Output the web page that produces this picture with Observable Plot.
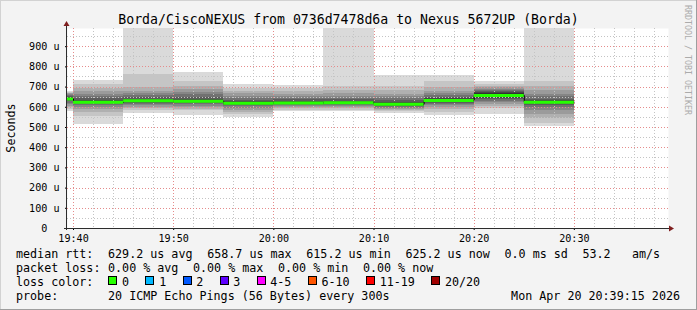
<!DOCTYPE html>
<html><head><meta charset="utf-8">
<script src="https://cdn.jsdelivr.net/npm/d3@7"></script>
<script src="https://cdn.jsdelivr.net/npm/@observablehq/plot@0.6"></script>
<style>
html,body{margin:0;padding:0;background:#f3f3f3;}
#chart{width:697px;height:310px;overflow:hidden;}
svg text{font-family:"DejaVu Sans Mono",monospace;}
</style></head><body><div id="chart"></div>
<script>
// ---------- data ----------
const title = "Borda/CiscoNEXUS from 0736d7478d6a to Nexus 5672UP (Borda)";
const yLabel = "Seconds";
const watermark = "RRDTOOL / TOBI OETIKER";

const stepStarts = ["19:35","19:40","19:45","19:50","19:55","20:00","20:05","20:10","20:15","20:20","20:25"];
const medians    = [641, 625, 632, 630, 620, 621, 622, 615.2, 634, 658.7, 625.2]; // microseconds
const losses     = [0, 0, 0, 0, 0, 0, 0, 0, 0, 0, 0];
// sorted pings used for the smoke (cp1..cp18), microseconds
const pingSets = [
  [577,588,598,606,614,620,627,632,636,644,648,653,658,662,666,669,672,676],
  [516,553,575,588,600,610,617,621,624,630,636,645,655,665,678,693,712,734],
  [569,582,592,600,608,615,620,625,629,635,640,648,657,668,680,698,760,1100],
  [561,582,590,597,605,612,618,622,626,633,640,650,662,675,690,705,729,770],
  [550,565,575,585,594,602,608,613,617,623,628,636,645,655,666,676,695,714],
  [577,585,592,598,604,609,613,617,619,624,630,637,645,655,665,676,692,709],
  [577,585,593,600,606,611,615,618,621,625,630,637,645,655,667,682,704,1100],
  [570,578,585,590,596,601,605,609,612,618,624,632,642,653,665,685,705,755],
  [561,575,590,600,608,614,619,624,628,637,643,650,658,667,676,700,726,755],
  [566,594,605,615,622,630,638,645,650,666,672,678,684,690,697,704,712,726],
  [503,520,545,565,586,600,610,617,621,629,634,640,651,665,685,701,729,1100]
];

const yTickValues = [0,100,200,300,400,500,600,700,800,900];
const xTickLabels = ["19:40","19:50","20:00","20:10","20:20","20:30"];

const rttLabel = "median rtt:";
const rttItems = ["629.2 us avg","658.7 us max","615.2 us min","625.2 us now","0.0 ms sd","53.2","am/s"];
const lossLabel = "packet loss:";
const lossItems = ["0.00 % avg","0.00 % max","0.00 % min","0.00 % now"];
const lossColorLabel = "loss color:";
const lossNames  = ["0","1","2","3","4-5","6-10","11-19","20/20"];
const lossColors = ["#26ff00","#00b8ff","#0059ff","#5e00ff","#ff00ff","#ff5500","#ff0000","#a00000"];
const probeLabel = "probe:";
const probeText = "20 ICMP Echo Pings (56 Bytes) every 300s";
const stampText = "Mon Apr 20 20:39:15 2026";

const smokeColors = ["#dadada","#c5c5c5","#b0b0b0","#9b9b9b","#868686","#717171","#5c5c5c","#474747","#323232"];

// ---------- build ----------
const at = (s, sec = 0) => { const [h, m] = s.split(":").map(Number); return new Date(Date.UTC(2026, 3, 20, h, m, sec)); };
const STEP = 5 * 60 * 1000;
const steps = stepStarts.map((s, i) => ({
  start: at(s), end: new Date(+at(s) + STEP), median: medians[i], loss: losses[i], pings: pingSets[i]
}));
const smoke = steps.flatMap(s => smokeColors.map((c, k) => ({start: s.start, end: s.end, lo: s.pings[k], hi: s.pings[17 - k], fill: c})));
const medianPath = [...steps.map(s => ({t: s.start, v: s.median})), {t: steps.at(-1).end, v: steps.at(-1).median}];
const lossColorOf = l => lossColors[l === 0 ? 0 : l <= 1 ? 1 : l <= 2 ? 2 : l <= 3 ? 3 : l <= 5 ? 4 : l <= 10 ? 5 : l <= 19 ? 6 : 7];

const xDomain = [at("19:39", 24), at("20:39", 24)];
const xMajor = xTickLabels.map(s => at(s));
const xMinor = d3.utcMinute.every(2).range(at("19:40"), at("20:39")).filter(d => d.getUTCMinutes() % 10 !== 0);
const yMinor = d3.range(50, 1000, 100);

const plot = Plot.plot({
  width: 697, height: 310,
  marginLeft: 67, marginRight: 29, marginTop: 28, marginBottom: 82,
  style: {background: "#f3f3f3", fontFamily: "DejaVu Sans Mono", fontSize: "10.1px", color: "#000", overflow: "visible"},
  x: {type: "utc", domain: xDomain, axis: null},
  y: {domain: [0, 990], axis: null},
  color: {type: "identity"},
  marks: [
    Plot.frame({fill: "#ffffff", stroke: null}),
    Plot.rect(smoke, {x1: "start", x2: "end", y1: "lo", y2: "hi", fill: "fill", clip: "frame", shapeRendering: "crispEdges"}),
    Plot.ruleX(xMinor, {stroke: "#c4c4c4", strokeDasharray: "1,2", shapeRendering: "crispEdges"}),
    Plot.ruleY(yMinor, {stroke: "#c4c4c4", strokeDasharray: "1,2", shapeRendering: "crispEdges"}),
    Plot.ruleX(xMajor, {stroke: "#e58c8c", strokeDasharray: "1,2", shapeRendering: "crispEdges"}),
    Plot.ruleY(yTickValues.filter(d => d > 0), {stroke: "#e58c8c", strokeDasharray: "1,2", shapeRendering: "crispEdges"}),
    Plot.line(medianPath, {x: "t", y: "v", curve: "step-after", stroke: "#000", strokeWidth: 1, clip: "frame"}),
    Plot.ruleY(steps, {y: "median", x1: "start", x2: "end", stroke: d => lossColorOf(d.loss), strokeWidth: 3, clip: "frame"}),
    Plot.axisY({ticks: yTickValues, tickFormat: d => d === 0 ? "0\u00a0\u00a0" : `${d} u`, tickSize: 2, tickPadding: 6, label: null}),
    Plot.axisX({ticks: xMajor, tickFormat: d3.utcFormat("%H:%M"), tickSize: 2, tickPadding: 4, label: null})
  ]
});
document.getElementById("chart").append(plot);

// ---------- decorations (axes, title, legend) ----------
const svg = d3.select(plot);
const sx = plot.scale("x"), sy = plot.scale("y");
const x0 = sx.apply(xDomain[0]), x1 = sx.apply(xDomain[1]);
const y0 = sy.apply(0), yTop = sy.apply(990);
const axisG = svg.append("g");
axisG.append("line").attr("x1", x0 - 0.5).attr("x2", x0 - 0.5).attr("y1", y0 + 2).attr("y2", yTop - 4)
  .attr("stroke", "#2c2c2c").attr("shape-rendering", "crispEdges");
axisG.append("line").attr("x1", x0 - 3).attr("x2", x1 + 3).attr("y1", y0 + 0.5).attr("y2", y0 + 0.5)
  .attr("stroke", "#2c2c2c").attr("shape-rendering", "crispEdges");
axisG.append("path").attr("d", `M${x0 - 0.5},${yTop - 7}L${x0 - 3.5},${yTop - 2}L${x0 + 2.5},${yTop - 2}Z`).attr("fill", "#7f1f1f");
axisG.append("path").attr("d", `M${x1 + 6},${y0 + 0.5}L${x1 + 1},${y0 - 2.5}L${x1 + 1},${y0 + 3.5}Z`).attr("fill", "#7f1f1f");

// frame shading
const W = 697, H = 310;
svg.append("path").attr("d", `M0,${H}V0H${W}`).attr("fill", "none").attr("stroke", "#d2d2d2").attr("stroke-width", 2);
svg.append("path").attr("d", `M${W},0V${H}H0`).attr("fill", "none").attr("stroke", "#9e9e9e").attr("stroke-width", 2);

svg.append("text").attr("x", 348.5).attr("y", 24).attr("text-anchor", "middle")
  .attr("font-size", "13.2px").attr("fill", "#000").text(title);
svg.append("text").attr("transform", "translate(15,128) rotate(-90)").attr("text-anchor", "middle")
  .attr("font-size", "11.7px").attr("fill", "#000").text(yLabel);
svg.append("text").attr("transform", "translate(685,5) rotate(90)").attr("text-anchor", "start")
  .attr("font-size", "8.3px").attr("fill", "#ababab").text(watermark);

const lg = svg.append("g").attr("font-size", "11.7px").attr("fill", "#000").attr("text-anchor", "start");
const put = (x, y, t) => lg.append("text").attr("x", x).attr("y", y).attr("text-anchor", "start").attr("xml:space", "preserve").text(t);
const CW = 7.08;
const col = i => 16 + i * CW;           // monospace column grid
const rows = [258, 272, 286, 300];
put(col(0), rows[0], rttLabel);
[13, 27, 41, 55, 69, 80, 87].forEach((c, i) => put(col(c), rows[0], rttItems[i]));
put(col(0), rows[1], lossLabel);
[13, 25, 37, 49].forEach((c, i) => put(col(c), rows[1], lossItems[i]));
put(col(0), rows[2], lossColorLabel);
let bx = 108.4;
lossNames.forEach((n, i) => {
  lg.append("rect").attr("x", Math.round(bx) + 0.5).attr("y", rows[2] - 9.5).attr("width", 8).attr("height", 8)
    .attr("fill", lossColors[i]).attr("stroke", "#000").attr("stroke-width", 1);
  const tx = bx + 13.7;
  put(tx, rows[2], n);
  bx = tx + n.length * 7.05 + 16.3;
});
put(col(0), rows[3], probeLabel);
put(col(13), rows[3], probeText);
lg.append("text").attr("x", 680).attr("y", rows[3]).attr("text-anchor", "end").text(stampText);
</script></body></html>
